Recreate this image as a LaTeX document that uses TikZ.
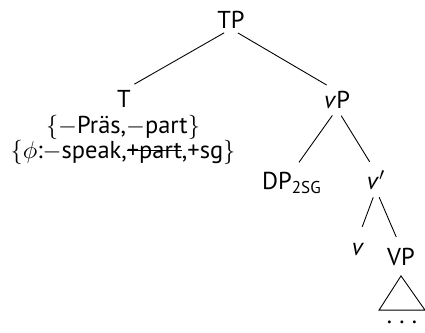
\documentclass[tikz,border=0pt]{standalone}
\usepackage{fontspec}
\setmainfont{PT Sans}
\usetikzlibrary{calc}
\newsavebox\strkbox
\newcommand\strk[1]{\sbox\strkbox{#1}\rlap{\usebox\strkbox}\rule[0.55ex]{\wd\strkbox}{0.4pt}}
\tikzset{
  every node/.style={font=\fontsize{11}{13}\selectfont},
  cat/.style={inner sep=0pt, text height=7.6pt, text depth=0pt},
  feat/.style={inner sep=0pt},
  branch/.style={shorten <=3.6pt, shorten >=5.4pt}
}
\begin{document}
\begin{tikzpicture}[x=0.45pt,y=-0.45pt]
  \useasboundingbox (0,0) rectangle (425,332);
  \node[cat] (TP) at (231,20) {TP};
  \node[cat] (T) at (124,99) {T};
  \node[cat] (vP) at (337,100) {\textit{v}P};
  \node[feat] (featA) at (123,127) {$\{-$Präs,$-$part$\}$};
  \node[feat] (featB) at (123,152) {$\{\phi$:$-$speak,\strk{+part},+sg$\}$};
  \node[cat] (DP) at (292,181) {DP\textsubscript{2SG}};
  \node[cat] (vbar) at (376,181) {\textit{v}$'$};
  \node[cat] (v) at (358,247) {\textit{v}};
  \node[cat] (VP) at (401,257) {VP};
  \node[feat] (dots) at (402,322) {.\kern.3em.\kern.3em.};

  \draw[branch] (TP.south) -- (T.north);
  \draw[branch] (TP.south) -- (vP.north);
  \draw[branch] (vP.south) -- (DP.north);
  \draw[branch] (vP.south) -- (vbar.north);
  \draw[branch] (vbar.south) -- (v.north);
  \draw[branch] (vbar.south) -- (VP.north);
  \draw ($(VP.south)+(0,10)$) -- ($(dots.north)+(-23,-10)$) -- ($(dots.north)+(23,-10)$) -- cycle;
\end{tikzpicture}
\end{document}
